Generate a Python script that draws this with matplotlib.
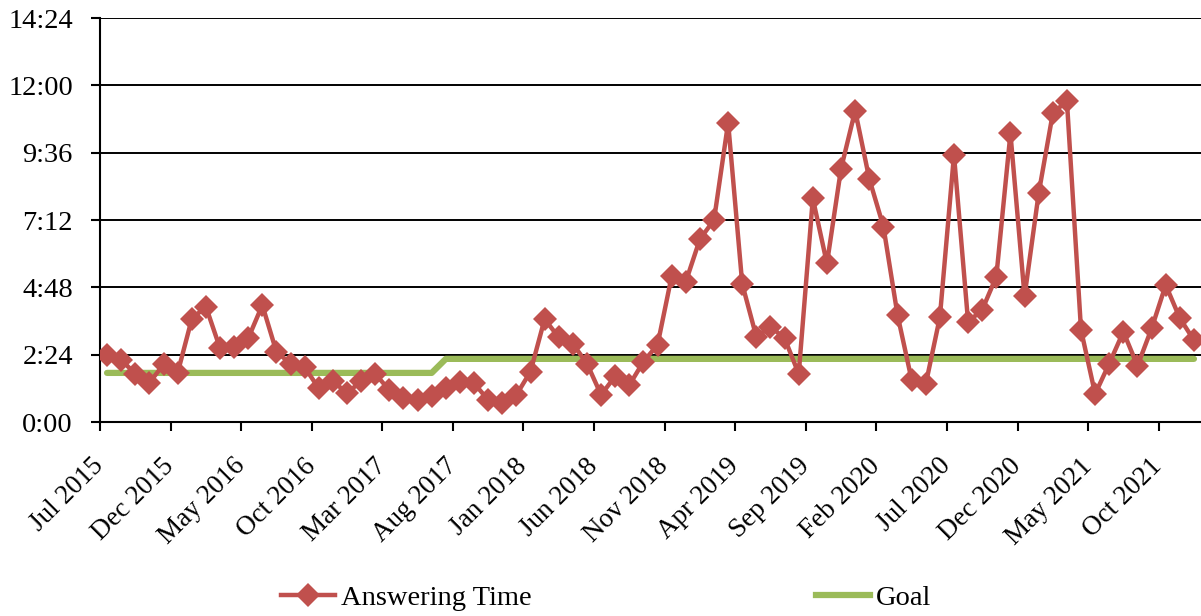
import matplotlib
matplotlib.use("Agg")
import matplotlib.pyplot as plt
from matplotlib.ticker import FuncFormatter, FixedLocator
from matplotlib.lines import Line2D
from matplotlib.transforms import ScaledTranslation

plt.rcParams['font.family'] = ['Liberation Serif', 'DejaVu Serif']

# Monthly answering time (seconds), Jul 2015 .. Dec 2021
answering_time = [143, 133, 103, 84, 123, 105, 220, 247, 158, 160,
                  179, 250, 150, 125, 117, 72, 88, 61, 88, 103,
                  68, 51, 47, 56, 72, 86, 83, 47, 40, 58,
                  108, 220, 181, 167, 125, 58, 98, 79, 129, 165,
                  312, 300, 391, 432, 640, 295, 182, 204, 179, 103,
                  478, 339, 542, 666, 520, 418, 229, 90, 81, 224,
                  571, 214, 240, 311, 617, 269, 489, 660, 687, 197,
                  60, 125, 193, 120, 200, 293, 222, 175]
# Goal (seconds)
goal = [105] * 24 + [135] * 54

tick_labels = ["Jul 2015", "Dec 2015", "May 2016", "Oct 2016", "Mar 2017",
               "Aug 2017", "Jan 2018", "Jun 2018", "Nov 2018", "Apr 2019",
               "Sep 2019", "Feb 2020", "Jul 2020", "Dec 2020", "May 2021",
               "Oct 2021"]
y_ticks = [0, 144, 288, 432, 576, 720, 864]

red = "#C0504D"
green = "#9BBB59"
FS = 20.5

fig = plt.figure(figsize=(12.01, 6.16), dpi=100)
ax = fig.add_axes([100 / 1201, 1 - 422 / 616, 1101 / 1201, 404 / 616])

n = len(answering_time)
xs = [i + 0.5 for i in range(n)]

ax.plot(xs, goal, color=green, lw=4.5, solid_capstyle='round', zorder=3)
ax.plot(xs, answering_time, color=red, lw=3.2, marker='D', markersize=12,
        markeredgewidth=0, zorder=4)

ax.set_xlim(0, 78)
ax.set_ylim(0, 864)
ax.yaxis.set_major_locator(FixedLocator(y_ticks))
ax.yaxis.set_major_formatter(FuncFormatter(lambda v, p: f"{int(v) // 60}:{int(v) % 60:02d}"))
ax.set_xticks([5 * k for k in range(len(tick_labels))])
ax.set_xticklabels(tick_labels, rotation=45, ha='right', va='center',
                   rotation_mode='anchor', fontsize=19.5)
offset = ScaledTranslation(10 / 100, 0, fig.dpi_scale_trans)
for lab in ax.get_xticklabels():
    lab.set_transform(lab.get_transform() + offset)

ax.grid(axis='y', color='black', lw=1.4, zorder=0)
ax.set_axisbelow(True)
for s in ['top', 'right']:
    ax.spines[s].set_visible(False)
for s in ['left', 'bottom']:
    ax.spines[s].set_color('black')
    ax.spines[s].set_linewidth(1.5)
ax.tick_params(axis='both', direction='out', length=6.5, width=1.5, colors='black')
ax.tick_params(axis='y', labelsize=FS, pad=13)
ax.tick_params(axis='x', pad=22.5)

h1 = Line2D([], [], color=red, lw=3.2, marker='D', markersize=12, markeredgewidth=0)
h2 = Line2D([], [], color=green, lw=4.5)
leg_kw = dict(loc='center left', frameon=False, fontsize=FS, handlelength=1.9,
              handletextpad=0.2, borderpad=0, borderaxespad=0)
fig.legend([h1], ["Answering Time"], bbox_to_anchor=(281 / 1201, 1 - 598 / 616), **leg_kw)
fig.legend([h2], ["Goal"], bbox_to_anchor=(816 / 1201, 1 - 598 / 616), **leg_kw)

fig.savefig("out.png", dpi=100)
